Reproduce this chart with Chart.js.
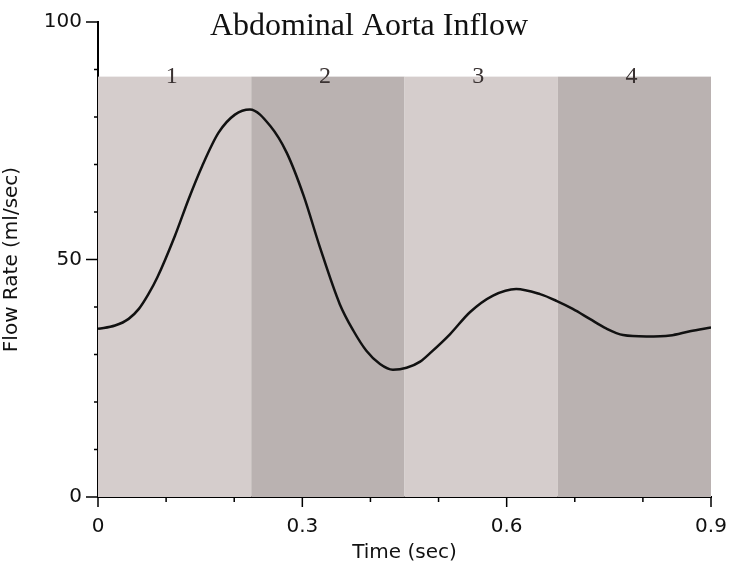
<!DOCTYPE html>
<html>
<head>
<meta charset="utf-8">
<script src="https://cdn.jsdelivr.net/npm/chart.js@4/dist/chart.umd.min.js"></script>
<style>
  html, body { margin: 0; padding: 0; background: #fff; }
  #wrap { width: 729px; height: 569px; }
</style>
</head>
<body>
<div id="wrap"><canvas id="flow" width="729" height="569"></canvas></div>
<script>
// ------------------ Data ------------------
const TIME = [0, 0.025, 0.045, 0.06, 0.074, 0.087, 0.113, 0.133, 0.153, 0.177,
  0.201, 0.223, 0.253, 0.277, 0.302, 0.326, 0.355, 0.375, 0.394, 0.414, 0.433,
  0.453, 0.473, 0.490, 0.517, 0.546, 0.580, 0.614, 0.649, 0.673, 0.697, 0.722,
  0.746, 0.771, 0.805, 0.840, 0.869, 0.9];
const FLOW = [35.4, 36.1, 37.5, 39.6, 42.7, 46.2, 55.0, 62.7, 69.7, 76.7,
  80.5, 81.6, 78.1, 72.5, 63.4, 52.5, 40.6, 35.0, 30.8, 28.0, 26.8,
  27.2, 28.5, 30.6, 34.3, 38.9, 42.4, 43.8, 42.7, 41.3, 39.6, 37.5,
  35.5, 34.1, 33.8, 34.0, 34.9, 35.7];

// cardiac phases: edges on the time axis, labels and band height
const PHASE_EDGES = [0, 0.225, 0.45, 0.675, 0.9];
const PHASE_LABELS = ["1", "2", "3", "4"];
const PHASE_TOP = 88.5;

const X_MAJOR = [0, 0.3, 0.6, 0.9];
const X_MINOR = [0.1, 0.2, 0.4, 0.5, 0.7, 0.8];
const Y_MAJOR = [0, 50, 100];
const Y_MINOR = [10, 20, 30, 40, 60, 70, 80, 90];

const TITLE = "Abdominal Aorta Inflow";

// ------------------ Plugins ------------------
const phaseBands = {
  id: "phaseBands",
  beforeDatasetsDraw(chart) {
    const { ctx, scales: { x, y } } = chart;
    const fills = ["#d5cdcc", "#bab2b1"];
    ctx.save();
    for (let i = 0; i < PHASE_LABELS.length; i++) {
      const x0 = x.getPixelForValue(PHASE_EDGES[i]);
      const x1 = x.getPixelForValue(PHASE_EDGES[i + 1]);
      const yTop = y.getPixelForValue(PHASE_TOP);
      const yBot = y.getPixelForValue(0);
      ctx.fillStyle = fills[i % 2];
      ctx.fillRect(x0, yTop, x1 - x0, yBot - yTop);
    }
    ctx.fillStyle = "#3a3232";
    ctx.font = "24px 'Liberation Serif', 'Times New Roman', serif";
    ctx.textAlign = "center";
    ctx.textBaseline = "alphabetic";
    for (let i = 0; i < PHASE_LABELS.length; i++) {
      const cx = x.getPixelForValue((PHASE_EDGES[i] + PHASE_EDGES[i + 1]) / 2);
      ctx.fillText(PHASE_LABELS[i], cx - 3, y.getPixelForValue(PHASE_TOP) + 6);
    }
    ctx.restore();
  },
  afterDraw(chart) {
    const { ctx, scales: { x, y } } = chart;
    const x0 = x.getPixelForValue(0);
    const y0 = y.getPixelForValue(0);
    ctx.save();
    ctx.strokeStyle = "#000";
    ctx.lineWidth = 1.5;
    ctx.beginPath();
    Y_MAJOR.forEach(v => { const p = y.getPixelForValue(v); ctx.moveTo(x0, p); ctx.lineTo(x0 - 12, p); });
    Y_MINOR.forEach(v => { const p = y.getPixelForValue(v); ctx.moveTo(x0, p); ctx.lineTo(x0 - 4, p); });
    X_MAJOR.forEach(v => { const p = x.getPixelForValue(v); ctx.moveTo(p, y0); ctx.lineTo(p, y0 + 10); });
    X_MINOR.forEach(v => { const p = x.getPixelForValue(v); ctx.moveTo(p, y0); ctx.lineTo(p, y0 + 5); });
    ctx.stroke();
    // title sits inside the top of the plot
    ctx.fillStyle = "#111";
    ctx.font = "32px 'Liberation Serif', 'Times New Roman', serif";
    ctx.textAlign = "center";
    ctx.textBaseline = "alphabetic";
    ctx.fillText(TITLE, 369, 35);
    ctx.restore();
  }
};

// ------------------ Chart ------------------
const sansFont = { family: "'DejaVu Sans', sans-serif", size: 20 };

new Chart(document.getElementById("flow").getContext("2d"), {
  type: "line",
  data: {
    datasets: [{
      label: "Flow Rate",
      data: TIME.map((t, i) => ({ x: t, y: FLOW[i] })),
      borderColor: "#111",
      borderWidth: 2.5,
      pointRadius: 0,
      cubicInterpolationMode: "monotone",
      fill: false
    }]
  },
  options: {
    responsive: false,
    animation: false,
    layout: { padding: { top: 22, right: 18, left: 0, bottom: 0 } },
    plugins: { legend: { display: false }, tooltip: { enabled: false } },
    scales: {
      x: {
        type: "linear",
        min: 0, max: 0.9,
        grid: { display: false, drawTicks: false },
        border: { display: true, color: "#000", width: 2 },
        ticks: {
          stepSize: 0.3,
          color: "#111",
          font: sansFont,
          padding: 18,
          maxRotation: 0,
          callback: v => (v === 0 ? "0" : v.toFixed(1))
        },
        title: { display: true, text: "Time (sec)", color: "#111", font: sansFont, padding: { top: 0 } },
        afterFit(scale) {
          scale.height = 72;
          scale.paddingLeft = 0;
          scale.paddingRight = 0;
        }
      },
      y: {
        min: 0, max: 100,
        grid: { display: false, drawTicks: false },
        border: { display: true, color: "#000", width: 2 },
        ticks: {
          stepSize: 50,
          color: "#111",
          font: sansFont,
          padding: 16
        },
        title: { display: true, text: "Flow Rate (ml/sec)", color: "#111", font: sansFont, padding: 0 },
        afterFit(scale) {
          scale.width = 98;
          scale.paddingTop = 0;
          scale.paddingBottom = 0;
        }
      }
    }
  },
  plugins: [phaseBands]
});
</script>
</body>
</html>
